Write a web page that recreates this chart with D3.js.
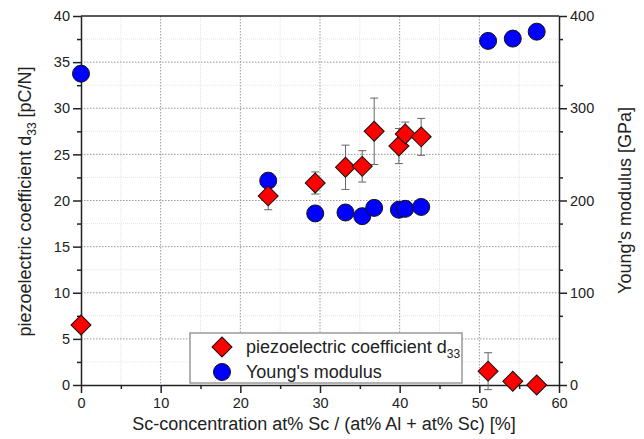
<!DOCTYPE html>
<html>
<head>
<meta charset="utf-8">
<script src="https://cdn.jsdelivr.net/npm/d3@7"></script>
<style>
  body { margin: 0; background: #fff; }
  svg { font-family: Arial, "Liberation Sans", sans-serif; }
  .axis path, .axis line { stroke: #222; stroke-width: 1.5; }
  .axis text { font-size: 14.5px; fill: #222; }
</style>
</head>
<body>
<svg id="chart" width="644" height="439"></svg>
<script>
// Sc concentration [%]
const scConc = [0, 23.5, 29.4, 33.2, 35.3, 36.8, 39.9, 40.7, 42.7, 51.1, 54.2, 57.2];
// piezoelectric coefficient d33 [pC/N] and its error
const d33 = [6.5, 20.5, 21.9, 23.6, 23.7, 27.5, 25.9, 27.2, 26.9, 1.5, 0.4, 0.0];
const d33Err = [0.5, 1.5, 1.2, 2.4, 1.7, 3.6, 1.9, 1.3, 2.0, 2.0, 0.3, 0.3];
// Young's modulus [GPa]
const youngs = [337.5, 221.5, 186, 187, 183, 192, 190, 191, 193, 373, 375.5, 383];

const xTicks = [0, 10, 20, 30, 40, 50, 60];
const yLeftTicks = [0, 5, 10, 15, 20, 25, 30, 35, 40];
const yRightTicks = [0, 100, 200, 300, 400];

const margin = { left: 81, right: 85, top: 16, bottom: 54 };
const W = 644, H = 439;
const width = W - margin.left - margin.right;
const height = H - margin.top - margin.bottom;
const titleSize = '18px';

const svg = d3.select('#chart');
const g = svg.append('g').attr('transform', `translate(${margin.left},${margin.top})`);

const x = d3.scaleLinear().domain([0, 60]).range([0, width]);
const yL = d3.scaleLinear().domain([0, 40]).range([height, 0]);
const yR = d3.scaleLinear().domain([0, 400]).range([height, 0]);

// minor grid
const xMinor = d3.range(5, 60, 10);
const yMinor = d3.range(2.5, 40, 5);
g.append('g').selectAll('line').data(xMinor).enter().append('line')
    .attr('x1', d => x(d)).attr('x2', d => x(d)).attr('y1', 0).attr('y2', height)
    .attr('stroke', '#e4e4e4').attr('stroke-width', 1).attr('stroke-dasharray', '1,1');
g.append('g').selectAll('line').data(yMinor).enter().append('line')
    .attr('y1', d => yL(d)).attr('y2', d => yL(d)).attr('x1', 0).attr('x2', width)
    .attr('stroke', '#e4e4e4').attr('stroke-width', 1).attr('stroke-dasharray', '1,1');

// major grid
g.append('g').selectAll('line').data(xTicks.slice(1, -1)).enter().append('line')
    .attr('x1', d => x(d)).attr('x2', d => x(d)).attr('y1', 0).attr('y2', height)
    .attr('stroke', '#999').attr('stroke-width', 1).attr('stroke-dasharray', '1.5,1.5');
g.append('g').selectAll('line').data(yLeftTicks.slice(1, -1)).enter().append('line')
    .attr('y1', d => yL(d)).attr('y2', d => yL(d)).attr('x1', 0).attr('x2', width)
    .attr('stroke', '#999').attr('stroke-width', 1).attr('stroke-dasharray', '1.5,1.5');

// axes (major ticks with labels, minor ticks without)
function minorAxis(axisFn, scale, vals, transform) {
    g.append('g').attr('class', 'axis').attr('transform', transform)
        .call(axisFn(scale).tickValues(vals).tickSize(4).tickFormat('').tickSizeOuter(0))
        .select('.domain').remove();
}
minorAxis(d3.axisBottom, x, xMinor, `translate(0,${height})`);
minorAxis(d3.axisLeft, yL, yMinor, 'translate(0,0)');
minorAxis(d3.axisRight, yL, yMinor, `translate(${width},0)`);

g.append('g').attr('class', 'axis').attr('transform', `translate(0,${height})`)
    .call(d3.axisBottom(x).tickValues(xTicks).tickSize(8).tickSizeOuter(0).tickPadding(5));
g.append('g').attr('class', 'axis')
    .call(d3.axisLeft(yL).tickValues(yLeftTicks).tickSize(8).tickSizeOuter(0).tickPadding(3));
g.append('g').attr('class', 'axis').attr('transform', `translate(${width},0)`)
    .call(d3.axisRight(yR).tickValues(yRightTicks).tickSize(8).tickSizeOuter(0).tickPadding(3));
g.append('line').attr('x1', 0).attr('x2', width).attr('y1', 0).attr('y2', 0)
    .attr('stroke', '#222').attr('stroke-width', 1.5);

// axis titles
svg.append('text')
    .attr('x', margin.left + width / 2 + 4).attr('y', 430)
    .attr('text-anchor', 'middle').attr('font-size', titleSize).attr('fill', '#222')
    .text('Sc-concentration at% Sc / (at% Al + at% Sc) [%]');

const leftTitle = svg.append('text')
    .attr('transform', `translate(31,${margin.top + height / 2 + 1}) rotate(-90)`)
    .attr('text-anchor', 'middle').attr('font-size', titleSize).attr('fill', '#222');
leftTitle.append('tspan').text('piezoelectric coefficient d');
leftTitle.append('tspan').attr('font-size', '12px').attr('dy', 5).text('33');
leftTitle.append('tspan').attr('dy', -5).text(' [pC/N]');

svg.append('text')
    .attr('transform', `translate(631,${margin.top + height / 2}) rotate(-90)`)
    .attr('text-anchor', 'middle').attr('font-size', titleSize).attr('fill', '#222')
    .text("Young's modulus [GPa]");

const pts = scConc.map((c, i) => ({ x: c, d33: d33[i], err: d33Err[i], ym: youngs[i] }));

// error bars
const eb = g.append('g').attr('stroke', '#666').attr('stroke-width', 1);
pts.forEach(p => {
    const cx = x(p.x), y1 = yL(p.d33 + p.err), y2 = yL(p.d33 - p.err);
    eb.append('line').attr('x1', cx).attr('x2', cx).attr('y1', y1).attr('y2', y2);
    eb.append('line').attr('x1', cx - 4).attr('x2', cx + 4).attr('y1', y1).attr('y2', y1);
    eb.append('line').attr('x1', cx - 4).attr('x2', cx + 4).attr('y1', y2).attr('y2', y2);
});

const diamond = d3.symbol().type(d3.symbolSquare).size(200);

// Young's modulus circles
g.append('g').selectAll('circle').data(pts).enter().append('circle')
    .attr('cx', d => x(d.x)).attr('cy', d => yR(d.ym)).attr('r', 8.5)
    .attr('fill', '#0000ff').attr('stroke', '#111').attr('stroke-width', 1);

// d33 diamonds
g.append('g').selectAll('path').data(pts).enter().append('path')
    .attr('d', diamond)
    .attr('transform', d => `translate(${x(d.x)},${yL(d.d33)}) rotate(45)`)
    .attr('fill', '#ff0000').attr('stroke', '#111').attr('stroke-width', 1);

// legend
const lg = svg.append('g').attr('transform', 'translate(190,333)');
lg.append('rect').attr('width', 272).attr('height', 50)
    .attr('fill', '#fff').attr('stroke', '#999').attr('stroke-width', 1.5);
lg.append('path').attr('d', diamond)
    .attr('transform', 'translate(32,14) rotate(45)')
    .attr('fill', '#ff0000').attr('stroke', '#111').attr('stroke-width', 1);
lg.append('circle').attr('cx', 32).attr('cy', 39).attr('r', 8.5)
    .attr('fill', '#0000ff').attr('stroke', '#111').attr('stroke-width', 1);
const t1 = lg.append('text').attr('x', 56).attr('y', 20).attr('font-size', titleSize).attr('fill', '#222');
t1.append('tspan').text('piezoelectric coefficient d');
t1.append('tspan').attr('font-size', '12px').attr('dy', 5).text('33');
lg.append('text').attr('x', 56).attr('y', 45).attr('font-size', titleSize).attr('fill', '#222')
    .text("Young's modulus");
</script>
</body>
</html>
